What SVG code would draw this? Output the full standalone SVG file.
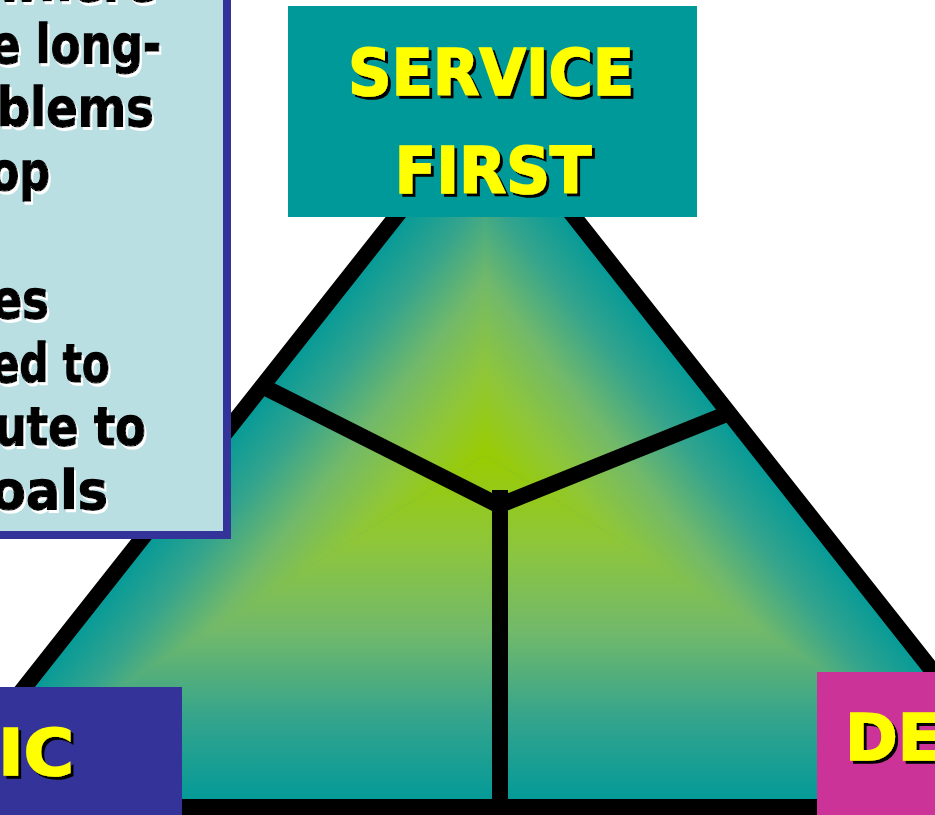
<svg xmlns="http://www.w3.org/2000/svg" xmlns:xlink="http://www.w3.org/1999/xlink" width="935" height="815" viewBox="0 0 935 815">
  <defs>
    <!-- teal rim to yellow-green centre, shared by the three fill sectors -->
    <linearGradient id="ramp">
      <stop offset="0" stop-color="#009999"/>
      <stop offset="0.25" stop-color="#34A48D"/>
      <stop offset="0.5" stop-color="#72B96A"/>
      <stop offset="0.75" stop-color="#8EC63A"/>
      <stop offset="1" stop-color="#99CC00"/>
    </linearGradient>
    <linearGradient id="gBottom" xlink:href="#ramp" gradientUnits="userSpaceOnUse" x1="485" y1="807" x2="485" y2="455"/>
    <linearGradient id="gLeft" xlink:href="#ramp" gradientUnits="userSpaceOnUse" x1="314.3" y1="320.2" x2="485" y2="455"/>
    <linearGradient id="gRight" xlink:href="#ramp" gradientUnits="userSpaceOnUse" x1="655.7" y1="320.2" x2="485" y2="455"/>

    <filter id="shadowWhite" x="-20%" y="-30%" width="140%" height="170%">
      <feOffset in="SourceAlpha" dx="2" dy="2.5" result="off"/>
      <feFlood flood-color="#ffffff"/>
      <feComposite in2="off" operator="in" result="sh"/>
      <feMerge><feMergeNode in="sh"/><feMergeNode in="SourceGraphic"/></feMerge>
    </filter>
    <filter id="shadowBlack" x="-20%" y="-30%" width="140%" height="170%">
      <feOffset in="SourceAlpha" dx="3" dy="3" result="off"/>
      <feFlood flood-color="#000000"/>
      <feComposite in2="off" operator="in" result="sh"/>
      <feMerge><feMergeNode in="sh"/><feMergeNode in="SourceGraphic"/></feMerge>
    </filter>

    <style>
      .outline { fill: none; stroke: #000; stroke-width: 16; stroke-linejoin: miter; }
      .divider { fill: none; stroke: #000; stroke-width: 16; stroke-linecap: butt; }
      .body { font-family: "DejaVu Sans", "Liberation Sans", sans-serif; font-weight: bold; font-size: 54px; fill: #000; stroke: #000; stroke-width: 1.3; filter: url(#shadowWhite); }
      .label { font-family: "DejaVu Sans", "Liberation Sans", sans-serif; font-weight: bold; font-size: 64px; fill: #FFFF00; stroke: #FFFF00; stroke-width: 1.6; filter: url(#shadowBlack); }
    </style>
  </defs>

  <rect width="935" height="815" fill="#ffffff"/>

  <!-- pyramid with path-style gradient fill -->
  <g id="pyramid">
    <polygon points="485,104 -70,807 1040,807" fill="#5DB07A"/>
    <polygon points="485,455 -70,807 1040,807" fill="url(#gBottom)"/>
    <polygon points="485,455 485,104 -70,807" fill="url(#gLeft)"/>
    <polygon points="485,455 485,104 1040,807" fill="url(#gRight)"/>
    <polygon class="outline" points="485,104 -70,807 1040,807"/>
  </g>

  <!-- inner Y dividing the pyramid -->
  <g id="connectors">
    <path class="divider" d="M500,490 V807"/>
    <path class="divider" d="M262,386 L500,506"/>
    <path class="divider" d="M500,505 L729,413"/>
  </g>

  <g id="text-panel">
    <rect x="-20" y="-20" width="251" height="559" fill="#333399"/>
    <rect x="-20" y="-20" width="243" height="551" fill="#BADFE3"/>
    <text class="body" x="-3" y="0.5" textLength="160" lengthAdjust="spacingAndGlyphs">where</text>
    <text class="body" x="-9" y="62.5" textLength="170" lengthAdjust="spacingAndGlyphs">e long-</text>
    <text class="body" x="-3" y="126.3" textLength="157" lengthAdjust="spacingAndGlyphs">blems</text>
    <text class="body" x="-10" y="190.1" textLength="60" lengthAdjust="spacingAndGlyphs">op</text>
    <text class="body" x="-8" y="317.7" textLength="57" lengthAdjust="spacingAndGlyphs">es</text>
    <text class="body" x="-8" y="381.5" textLength="118" lengthAdjust="spacingAndGlyphs">ed to</text>
    <text class="body" x="-5" y="445.3" textLength="151" lengthAdjust="spacingAndGlyphs">ute to</text>
    <text class="body" x="-9" y="509.1" textLength="117" lengthAdjust="spacingAndGlyphs">oals</text>
  </g>

  <g id="service-first">
    <rect x="288" y="6" width="409" height="211" fill="#009999"/>
    <text class="label" x="491" y="95" text-anchor="middle" textLength="286" lengthAdjust="spacingAndGlyphs">SERVICE</text>
    <text class="label" x="493" y="193" text-anchor="middle" textLength="197" lengthAdjust="spacingAndGlyphs">FIRST</text>
  </g>

  <g id="left-corner">
    <rect x="-10" y="687" width="192" height="140" fill="#333399"/>
    <text class="label" x="-2" y="775" font-size="62" textLength="76" lengthAdjust="spacingAndGlyphs">IC</text>
  </g>

  <g id="right-corner">
    <rect x="817" y="672" width="130" height="150" fill="#CC3399"/>
    <text class="label" x="845" y="760" font-size="63" textLength="96" lengthAdjust="spacingAndGlyphs">DE</text>
  </g>
</svg>
